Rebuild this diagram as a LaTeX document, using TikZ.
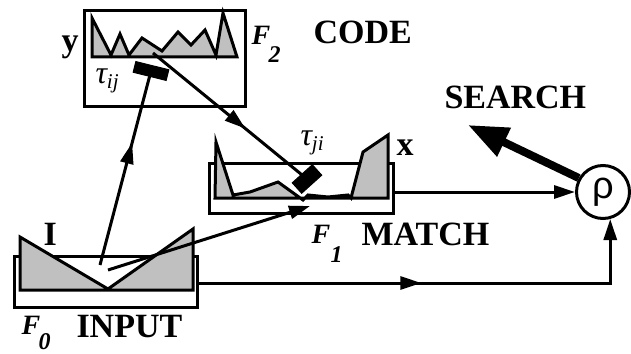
\documentclass[tikz,border=0pt]{standalone}
\usepackage{fontspec}
\setmainfont{Liberation Serif}
\newfontfamily\rhofont{Liberation Sans}
\usetikzlibrary{arrows.meta,decorations.markings}
\definecolor{wavegray}{HTML}{C0C0C0}
\begin{document}
\begin{tikzpicture}[x=1pt,y=-1pt,line width=3pt,line join=miter,
  >={Triangle[length=21pt,width=13pt]},
  frame/.style={draw,line width=3pt,fill=white,inner sep=0pt},
  wave/.style={draw,fill=wavegray,line width=3pt},
  blk/.style={draw=black,fill=black,line width=1pt,inner sep=0pt},
  lbl/.style={font=\fontsize{34}{34}\selectfont\bfseries,inner sep=0pt,anchor=base west},
  flbl/.style={font=\fontsize{28}{28}\selectfont\bfseries\itshape,inner sep=0pt,anchor=base west},
  slbl/.style={font=\fontsize{24}{24}\selectfont\bfseries\itshape,inner sep=0pt,anchor=base west},
  taulbl/.style={font=\fontsize{32}{32}\selectfont\itshape,inner sep=0pt,anchor=base west},
  midarrow/.style={postaction={decorate},decoration={markings,mark=at position #1 with {\arrow{>}}}}
]
\useasboundingbox (0,0) rectangle (631,353);

% boxes
\node[frame,minimum width=161pt,minimum height=95pt] (f2box) at (164.5,58.5) {};
\node[frame,minimum width=184pt,minimum height=50pt] (f1box) at (301,188) {};
\node[frame,minimum width=183pt,minimum height=51pt] (f0box) at (105.5,281.5) {};

% waveforms
\draw[wave] (92,57) -- (92,18) -- (111,55) -- (120,34) -- (129,55) -- (142,38) -- (162,51)
  -- (178,32) -- (191,45) -- (205,30) -- (216,55) -- (223,13) -- (237,57) -- cycle;
\draw[wave] (215,198) -- (216,142) -- (233,195) -- (250,192) -- (278,182) -- (303,200)
  -- (308,195) -- (328,197) -- (348,195) -- (351,198) -- (363,152) -- (388,135) -- (388,198) -- cycle;
\draw[wave] (20,290) -- (20,237) -- (108,289) -- (193,229) -- (193,290) -- cycle;

% circle
\node[circle,draw,fill=white,line width=3pt,minimum size=53pt,inner sep=0pt,
  font=\fontsize{38}{38}\selectfont\rhofont] (rho) at (603,192) {ρ};

% connection points
\coordinate (vin) at (100,265);
\coordinate (vin2) at (108,270);
\coordinate (f1in) at (310,206);
\coordinate (f2out) at (153,53);
\coordinate (f1out) at (393,192);
\coordinate (f0out) at (197,283);
\coordinate (srch) at (468,125);
\coordinate (tijc) at (151,71);
\coordinate (tjic) at (307,179);

% connectors
\draw[midarrow=0.63] (vin) -- (tijc);
\draw[->] (vin2) -- (f1in);
\draw[midarrow=0.6] (f2out) -- (tjic);
\draw[->] (f1out) -- (rho.west);
\draw[midarrow=0.47,->] (f0out) -- (rho.-75 |- f0out) -- (rho.-75);
\draw[line width=8pt,-{Triangle[length=40pt,width=30pt]}] (rho.150) -- (srch);

% blocks
\node[blk,minimum width=34pt,minimum height=11pt,rotate=-14] (tij) at (tijc) {};
\node[blk,minimum width=27pt,minimum height=14pt,rotate=42] (tji) at (tjic) {};

% labels
\node[lbl] (code) at (312,44) {CODE};
\node[lbl] (search) at (443,108) {SEARCH};
\node[lbl] (match) at (360,245) {MATCH};
\node[lbl] (input) at (75,337) {INPUT};
\node[lbl] (ilab) at (42,245) {I};
\node[lbl,anchor=center] (ylab) at (70,47) {y};
\node[lbl] (xlab) at (395,155) {x};

\node[flbl] (f2l) at (250,45) {F};
\node[slbl] (f2s) at (267,63) {2};
\node[flbl] (f1l) at (310,243) {F};
\node[slbl] (f1s) at (329,262) {1};
\node[flbl] (f0l) at (20,334) {F};
\node[slbl] (f0s) at (37,349) {0};

\node[taulbl] (tijl) at (94,83) {τ\raisebox{-5pt}{\fontsize{21}{21}\selectfont ij}};
\node[taulbl] (tjil) at (299,145) {τ\raisebox{-5pt}{\fontsize{21}{21}\selectfont ji}};
\end{tikzpicture}
\end{document}
